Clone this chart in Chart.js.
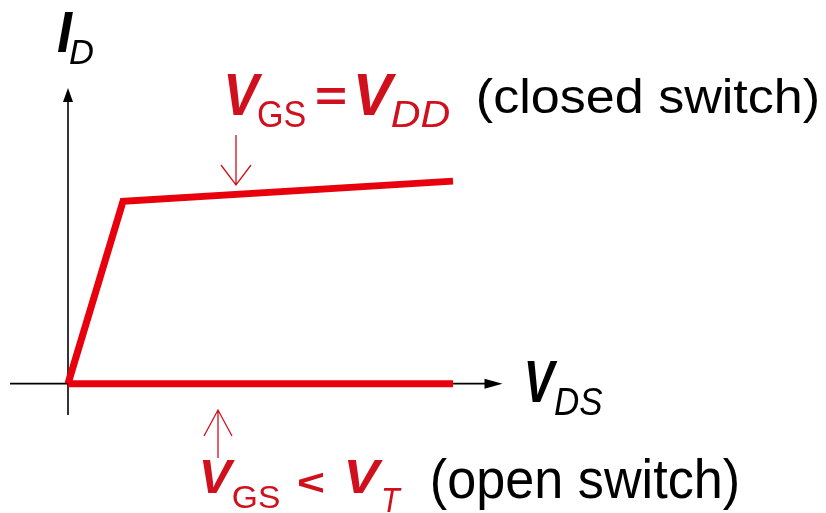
<!DOCTYPE html>
<html>
<head>
<meta charset="utf-8">
<script src="https://cdn.jsdelivr.net/npm/chart.js@4/dist/chart.umd.min.js"></script>
<style>
html,body{margin:0;padding:0;background:#fff;}
#wrap{width:826px;height:513px;}
</style>
</head>
<body>
<div id="wrap"><canvas id="c" width="826" height="513"></canvas></div>
<script>
// ---- data (V_DS vs I_D, arbitrary units) ----
const closedVds = [0, 1, 7];
const closedId  = [0, 9, 10];
const openVds   = [0, 7];
const openId    = [0, 0];
const xRange = [-1, 8];
const yRange = [-1.5, 14.5];
const xAxisTitle = ['V', 'DS'];
const yAxisTitle = ['I', 'D'];

const LINE_RED = '#e8000c';
const TEXT_RED = '#d0101c';
const FONT = "'Liberation Sans', Arial, sans-serif";

function toPts(xs, ys){ return xs.map((x,i)=>({x:x, y:ys[i]})); }

// draw text so that its ink fills the box [x0,x1] x [y0,y1]
function fitBox(ctx, text, font, color, x0, x1, y0, y1){
  ctx.save();
  ctx.font = font;
  ctx.textAlign = 'left';
  ctx.textBaseline = 'alphabetic';
  const m = ctx.measureText(text);
  const w = m.actualBoundingBoxLeft + m.actualBoundingBoxRight;
  const h = m.actualBoundingBoxAscent + m.actualBoundingBoxDescent;
  const sx = (x1 - x0) / w, sy = (y1 - y0) / h;
  ctx.translate(x0, y0);
  ctx.scale(sx, sy);
  ctx.fillStyle = color;
  ctx.fillText(text, m.actualBoundingBoxLeft, m.actualBoundingBoxAscent);
  ctx.restore();
}

function thinArrow(ctx, x, yFrom, yTo, wingDy, wingDx, color){
  ctx.save();
  ctx.strokeStyle = color; ctx.lineWidth = 1.3;
  ctx.beginPath();
  ctx.moveTo(x, yFrom); ctx.lineTo(x, yTo);
  const dir = yTo > yFrom ? -1 : 1;
  ctx.moveTo(x - wingDx, yTo + dir*wingDy); ctx.lineTo(x, yTo); ctx.lineTo(x + wingDx, yTo + dir*wingDy);
  ctx.stroke();
  ctx.restore();
}

const deco = {
  id: 'deco',
  beforeDraw(chart){
    const ctx = chart.ctx;
    ctx.save(); ctx.fillStyle = '#fff'; ctx.fillRect(0,0,chart.width,chart.height); ctx.restore();
  },
  beforeDatasetsDraw(chart){
    const ctx = chart.ctx, xs = chart.scales.x, ys = chart.scales.y, a = chart.chartArea;
    const x0 = xs.getPixelForValue(0), y0 = ys.getPixelForValue(0);
    ctx.save();
    ctx.strokeStyle = '#000'; ctx.fillStyle = '#000'; ctx.lineWidth = 1.6;
    // y axis
    const yTip = a.top - 2;
    ctx.beginPath(); ctx.moveTo(x0, a.bottom + 1); ctx.lineTo(x0, yTip + 12); ctx.stroke();
    ctx.beginPath(); ctx.moveTo(x0, yTip); ctx.lineTo(x0 - 5, yTip + 14); ctx.lineTo(x0 + 5, yTip + 14); ctx.closePath(); ctx.fill();
    // x axis
    const xTip = xs.getPixelForValue(7.9);
    ctx.beginPath(); ctx.moveTo(a.left - 3, y0); ctx.lineTo(xTip - 12, y0); ctx.stroke();
    ctx.beginPath(); ctx.moveTo(xTip, y0); ctx.lineTo(xTip - 18, y0 - 5); ctx.lineTo(xTip - 18, y0 + 5); ctx.closePath(); ctx.fill();
    ctx.restore();
  },
  afterDraw(chart){
    const ctx = chart.ctx;
    // axis titles
    fitBox(ctx, yAxisTitle[0], 'italic bold 54px ' + FONT, '#000', 57, 73, 13, 52);
    fitBox(ctx, yAxisTitle[1], 'italic 33px ' + FONT, '#000', 70, 93, 40, 64);
    fitBox(ctx, xAxisTitle[0], 'italic bold 56px ' + FONT, '#000', 527, 558, 362, 402);
    fitBox(ctx, xAxisTitle[1], 'italic 37px ' + FONT, '#000', 555, 603, 388, 415);
    // top label
    fitBox(ctx, 'V', 'italic bold 56px ' + FONT, TEXT_RED, 227, 263, 75, 115);
    fitBox(ctx, 'GS', '35px ' + FONT, TEXT_RED, 258, 305, 102, 127);
    fitBox(ctx, '=', 'bold 55px ' + FONT, TEXT_RED, 317, 345, 89, 106);
    fitBox(ctx, 'V', 'italic bold 56px ' + FONT, TEXT_RED, 357, 397, 75, 115);
    fitBox(ctx, 'DD', 'italic 35px ' + FONT, TEXT_RED, 392, 450, 102, 127);
    fitBox(ctx, '(closed switch)', '48px ' + FONT, '#000', 478, 818, 78, 123);
    thinArrow(ctx, 236, 135, 185, 20, 15, TEXT_RED);
    // bottom label
    fitBox(ctx, 'V', 'italic bold 46px ' + FONT, TEXT_RED, 202, 235, 460, 493);
    fitBox(ctx, 'GS', '29px ' + FONT, TEXT_RED, 233, 280, 487, 508);
    fitBox(ctx, '<', 'bold 46px ' + FONT, TEXT_RED, 298, 323, 472, 493);
    fitBox(ctx, 'V', 'italic bold 46px ' + FONT, TEXT_RED, 347, 383, 460, 493);
    fitBox(ctx, 'T', 'italic 29px ' + FONT, TEXT_RED, 383, 402, 488, 512);
    fitBox(ctx, '(open switch)', '48px ' + FONT, '#000', 432, 738, 458, 510);
    thinArrow(ctx, 218, 458, 410, 26, 14, TEXT_RED);
  }
};

new Chart(document.getElementById('c'), {
  type: 'scatter',
  data: {
    datasets: [
      { label: 'closed switch', data: toPts(closedVds, closedId), showLine: true,
        borderColor: LINE_RED, borderWidth: 7, pointRadius: 0, tension: 0,
        borderJoinStyle: 'miter', borderCapStyle: 'butt', fill: false },
      { label: 'open switch', data: toPts(openVds, openId), showLine: true,
        borderColor: LINE_RED, borderWidth: 7, pointRadius: 0, tension: 0,
        borderCapStyle: 'butt', fill: false }
    ]
  },
  options: {
    responsive: false,
    animation: false,
    devicePixelRatio: 1,
    layout: { padding: { left: 13, right: 318, top: 90, bottom: 99 } },
    plugins: { legend: { display: false }, tooltip: { enabled: false } },
    scales: {
      x: { type: 'linear', min: xRange[0], max: xRange[1], display: false },
      y: { type: 'linear', min: yRange[0], max: yRange[1], display: false }
    }
  },
  plugins: [deco]
});
</script>
</body>
</html>
